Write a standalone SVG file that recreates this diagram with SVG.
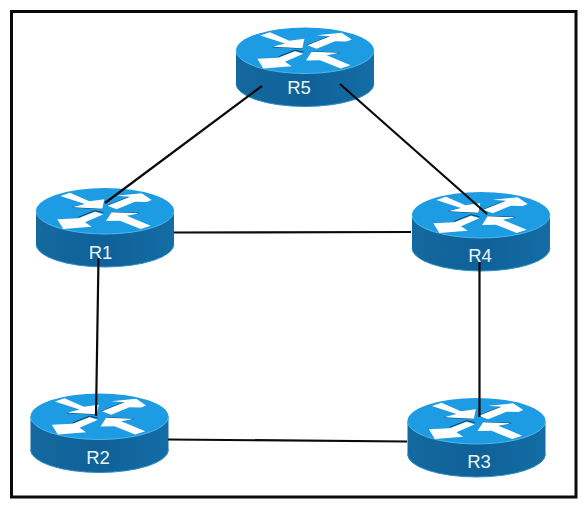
<svg xmlns="http://www.w3.org/2000/svg" width="587" height="508" viewBox="0 0 587 508">
<style>
.frame{fill:none;stroke:#0a0a0a;stroke-width:3}
.lnk{stroke:#0a0a0a;stroke-width:2.200;fill:none}
.lbl{font:18.500px "Liberation Sans",Arial,sans-serif;fill:#e8f4fb;text-anchor:middle}
.arr{fill:#fff}
.shd{fill:none;stroke:#0c3f63;stroke-width:3}
</style>
<defs>
<linearGradient id="side" x1="0" x2="1" y1="0" y2="0">
<stop offset="0" stop-color="#14699f"/><stop offset=".5" stop-color="#0f6198"/><stop offset="1" stop-color="#146da5"/>
</linearGradient>
<g id="router">
<path d="M-69 0V33A69 23 0 0 0 69 33V0Z" fill="url(#side)"/>
<path d="M-69 33A69 23 0 0 0 69 33" fill="none" stroke="#2a8fc8" stroke-width="1"/>
<ellipse cx="0" cy="0" rx="69" ry="23" fill="#1e9ce3"/>
<path d="M-69 0A69 23 0 0 0 69 0" fill="none" stroke="#4fb6ec" stroke-width="1"/>
<g transform="scale(.3333) translate(-240,-105)">
<path class="shd" d="M143 94L232 98M247 89L315 62M160 124L210 104L235 110M260 109L343 112"/>
<path class="arr" d="M106 60L135 50L193 76L238 70L232 98L143 94L180 84Z"/>
<path class="arr" d="M247 89L315 62L275 59L350 52L380 72L365 78L330 77L275 100Z"/>
<path class="arr" d="M97 130L160 127L210 107L235 115L180 139L200 152L115 159Z"/>
<path class="arr" d="M243 135L260 109L343 112L305 119L377 149L347 159L285 134Z"/>
</g>
</g>
</defs>
<rect width="587" height="508" fill="#fff"/>
<rect class="frame" x="11.500" y="11.500" width="564.500" height="485.500"/>
<g id="R5"><use href="#router" x="305" y="50.500"/><text class="lbl" x="299" y="93.500">R5</text></g>
<g id="R1"><use href="#router" x="105" y="211"/><text class="lbl" x="100.500" y="258.500">R1</text></g>
<g id="R4"><use href="#router" x="481" y="215"/><text class="lbl" x="480" y="262">R4</text></g>
<g id="R2"><use href="#router" x="99.500" y="416.500"/><text class="lbl" x="98" y="464">R2</text></g>
<g id="R3"><use href="#router" x="476.500" y="421"/><text class="lbl" x="479" y="467.500">R3</text></g>
<g id="connectors">
<line class="lnk" x1="262" y1="86" x2="105" y2="203"/>
<line class="lnk" x1="340" y1="84" x2="487" y2="214"/>
<line class="lnk" x1="174" y1="232.500" x2="411" y2="232"/>
<line class="lnk" x1="98.500" y1="258" x2="96" y2="416"/>
<line class="lnk" x1="479.500" y1="262" x2="479.500" y2="417"/>
<line class="lnk" x1="168" y1="439.500" x2="407" y2="441.500"/>
</g>
</svg>
